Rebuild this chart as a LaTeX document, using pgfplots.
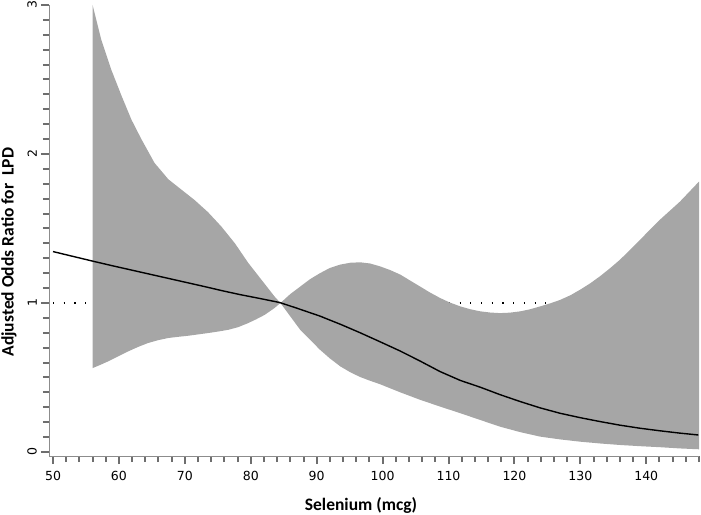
\documentclass[border=0pt]{standalone}
\usepackage{pgfplots}
\pgfplotsset{compat=1.18}
\usetikzlibrary{calc}
\usepackage{fontspec}
\setmainfont{DejaVu Sans}
\newfontfamily\labfont{Carlito}
\definecolor{band}{RGB}{166,166,166}
\definecolor{axgray}{RGB}{140,140,140}
\definecolor{tickgray}{RGB}{110,110,110}

\begin{document}
\begin{tikzpicture}
\begin{axis}[scale only axis, width=650bp, height=451bp,
    xmin=49.39, xmax=148, ymin=-0.027, ymax=3.0,
    axis lines=left,
    axis line style={-, axgray, line width=1bp},
    xtick={50,60,...,140}, minor xtick={52,54,...,148},
    ytick={0,1,2,3}, minor ytick={0.1,0.2,...,2.95},
    tick align=outside,
    tick style={tickgray, line width=2bp},
    major tick length=8bp, minor tick length=6bp,
    /pgf/number format/assume math mode=true,
    tick label style={font=\fontsize{12.5bp}{14bp}\selectfont},
    yticklabel style={rotate=90, anchor=south, inner sep=0pt},
    yticklabel shift=4bp,
    xticklabel style={inner sep=0pt, anchor=north},
    xticklabel shift=7bp]
% reference line at OR = 1, drawn under the band
\addplot[black, line width=1.1bp, dash pattern=on 1.1bp off 9.6bp]
    coordinates {(50,1) (148,1)};
% 95% confidence band: upper limit left to right, then lower limit back
\addplot[fill=band, draw=none] coordinates {
    (56.0,3.00) (57.3,2.77) (58.8,2.57) (60.4,2.39) (61.9,2.23) (63.4,2.10)
    (65.4,1.94) (67.5,1.83) (69.5,1.76) (71.5,1.69) (73.5,1.61) (75.5,1.515)
    (77.6,1.40) (79.6,1.27) (81.6,1.157) (83.6,1.044) (84.5,1.00)
    (86.0,1.06) (87.5,1.11) (89.0,1.16) (90.5,1.20) (92.0,1.235) (93.6,1.258)
    (95.1,1.270) (96.6,1.273) (98.1,1.265) (99.6,1.246) (101.2,1.22)
    (102.7,1.19) (104.2,1.15) (105.7,1.11) (107.2,1.07) (108.7,1.034)
    (110.2,1.003) (111.8,0.977) (113.3,0.958) (114.8,0.944) (116.3,0.936)
    (117.8,0.932) (119.3,0.935) (120.9,0.944) (122.4,0.958) (123.9,0.977)
    (125.4,0.997) (126.9,1.02) (128.5,1.052) (130.0,1.09) (131.5,1.132)
    (133.0,1.18) (134.5,1.233) (136.0,1.29) (137.5,1.355) (139.1,1.426)
    (140.6,1.494) (142.1,1.56) (143.6,1.62) (145.1,1.68) (146.5,1.745)
    (148.0,1.815)
    (148.0,0.018) (145.0,0.024) (142.1,0.032) (139.0,0.039) (136.0,0.047)
    (133.0,0.057) (130.0,0.069) (127.0,0.084) (123.9,0.103) (120.9,0.133)
    (117.8,0.17) (114.8,0.215) (111.8,0.26) (108.7,0.305) (105.7,0.35)
    (102.7,0.40) (99.6,0.455) (98.1,0.478) (96.6,0.503) (95.1,0.535)
    (93.6,0.574) (92.0,0.628) (90.5,0.686) (89.0,0.753) (87.5,0.82)
    (86.0,0.91) (84.5,1.00)
    (83.6,0.966) (82.1,0.92) (80.8,0.89) (79.6,0.865) (78.1,0.838)
    (76.6,0.82) (75.0,0.808) (73.5,0.798) (72.0,0.789) (70.5,0.78)
    (69.0,0.773) (67.5,0.765) (65.9,0.75) (64.4,0.731) (62.9,0.705)
    (61.4,0.675) (59.8,0.64) (58.3,0.607) (57.2,0.585) (56.0,0.563)} -- cycle;
% adjusted odds ratio
\addplot[black, line width=1.4bp] coordinates {
    (50.0,1.345) (53.0,1.313) (56.1,1.28) (59.0,1.25) (62.0,1.22)
    (65.2,1.188) (68.3,1.157) (71.0,1.13) (73.0,1.11) (75.8,1.081)
    (78.4,1.056) (81.4,1.03) (84.4,1.003) (87.0,0.965) (90.5,0.912)
    (93.6,0.857) (96.6,0.800) (99.6,0.740) (102.7,0.677) (105.7,0.61)
    (108.7,0.54) (111.8,0.48) (114.8,0.435) (117.8,0.385) (120.9,0.338)
    (123.9,0.296) (126.9,0.26) (130.0,0.23) (133.0,0.204) (136.0,0.18)
    (139.1,0.159) (142.1,0.142) (145.0,0.127) (147.9,0.114)};
\coordinate (sw) at (rel axis cs:0,0);
\coordinate (ne) at (rel axis cs:1,1);
\coordinate (ylab) at (rel axis cs:0,0.452);
\coordinate (xlab) at (rel axis cs:0.48,0);
\end{axis}
\node[rotate=90, font=\labfont\bfseries\fontsize{17.5bp}{20bp}\selectfont]
    at ([xshift=-40bp]ylab) {Adjusted Odds Ratio for\ \ LPD};
\node[anchor=base, font=\labfont\bfseries\fontsize{17.5bp}{20bp}\selectfont]
    at ([yshift=-54bp]xlab) {Selenium (mcg)};
\pgfresetboundingbox
\path[use as bounding box] ($(sw)+(-49bp,-59bp)$) rectangle ($(ne)+(2bp,5bp)$);
\end{tikzpicture}
\end{document}
